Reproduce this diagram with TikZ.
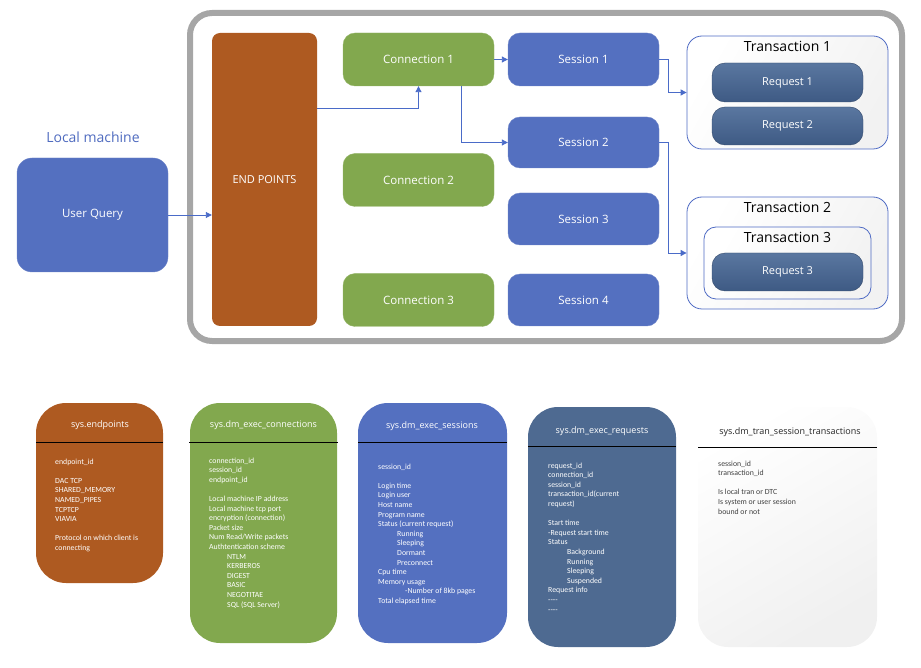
\documentclass[tikz,border=0pt]{standalone}
\usepackage{fontspec}
\setmainfont{Open Sans}
\newfontfamily\bodyfont{Carlito}
\usetikzlibrary{arrows.meta,calc}
\definecolor{framegray}{HTML}{A6A6A6}
\definecolor{sessblue}{HTML}{5470C0}
\definecolor{conngreen}{HTML}{82A84E}
\definecolor{epbrown}{HTML}{AE5A21}
\definecolor{reqtop}{HTML}{5A77A0}
\definecolor{reqbot}{HTML}{3E5A84}
\definecolor{reqcard}{HTML}{4E6A91}
\definecolor{arrblue}{HTML}{4A6BC8}
\definecolor{tranline}{HTML}{4F6BC4}
\definecolor{lmtext}{HTML}{4F6BBF}
\tikzset{
  box/.style={inner sep=0pt, text=white, font=\fontsize{11.5}{13}\selectfont},
  sessbox/.style={box, fill=sessblue, draw=sessblue!85!white, rounded corners=12pt, minimum width=151pt},
  connbox/.style={box, fill=conngreen, draw=conngreen!85!white, rounded corners=12pt, minimum width=151pt, minimum height=53pt},
  reqbox/.style={box, top color=reqtop, bottom color=reqbot, draw=reqbot!80!black, rounded corners=13pt, minimum width=151pt, font=\fontsize{11}{12}\selectfont},
  tranbox/.style={draw=tranline, line width=0.8pt, rounded corners=15pt, left color=white, right color=black!5, shading angle=60, inner sep=0pt, minimum width=201pt},
  trantitle/.style={inner sep=0pt, font=\fontsize{14}{16}\selectfont, text=black},
  arr/.style={draw=arrblue, line width=0.9pt, -{Triangle[length=6pt,width=6pt]}},
  card/.style={inner sep=0pt, rounded corners=30pt},
  cardtitle/.style={inner sep=0pt, font=\fontsize{9}{11}\selectfont, text=white},
  cardbody/.style={inner sep=0pt, anchor=north west, align=left, text=white, font=\bodyfont\fontsize{7.8}{9.6}\selectfont},
  divider/.style={draw=black, line width=1pt}
}
\begin{document}
\begin{tikzpicture}[x=1pt,y=-1pt]
\useasboundingbox (0,0) rectangle (921,668);
% outer frame
\draw[framegray, line width=6pt, rounded corners=22pt] (190,13) rectangle (902,341);

% local machine
\node[inner sep=0pt, text=lmtext, font=\fontsize{14}{16}\selectfont] (lm) at (93,137) {Local machine};
\node[box, fill=sessblue, draw=sessblue!85!white, rounded corners=15pt, minimum width=151pt, minimum height=114pt] (uq) at (92.5,215) {User Query};

% end points
\node[box, fill=epbrown, rounded corners=8pt, minimum width=105pt, minimum height=293pt, font=\fontsize{11}{12}\selectfont] (ep) at (264.5,179.5) {END POINTS};

% connections
\node[connbox] (c1) at (418.5,59.5) {Connection 1};
\node[connbox] (c2) at (418.5,180) {Connection 2};
\node[connbox] (c3) at (418.5,300) {Connection 3};

% sessions
\node[sessbox, minimum height=53pt] (s1) at (583.5,59.5) {Session 1};
\node[sessbox, minimum height=51pt] (s2) at (583.5,142.5) {Session 2};
\node[sessbox, minimum height=52pt] (s3) at (583.5,219) {Session 3};
\node[sessbox, minimum height=52pt] (s4) at (583.5,300) {Session 4};

% transactions
\node[tranbox, minimum height=113pt] (t1) at (787.5,92.5) {};
\node[trantitle] (t1l) at (787.5,46) {Transaction 1};
\node[reqbox, minimum height=39pt] (r1) at (787.5,82.5) {Request 1};
\node[reqbox, minimum height=38pt] (r2) at (787.5,126) {Request 2};

\node[tranbox, minimum height=112pt] (t2) at (787.5,253) {};
\node[trantitle] (t2l) at (787.5,207) {Transaction 2};
\node[tranbox, minimum width=167pt, minimum height=72pt, rounded corners=12pt] (t3) at (787.5,263) {};
\node[trantitle] (t3l) at (787.5,237) {Transaction 3};
\node[reqbox, minimum height=38pt] (r3) at (787.5,272) {Request 3};

% connectors
\coordinate (ky) at (0,108);
\coordinate (kx1) at (461,0);
\coordinate (kx2) at (668,0);
\draw[arr] (uq.east) -- (uq.east -| ep.west);
\draw[arr] (ep.east |- ky) -| (c1.south);
\draw[arr] (c1.east) -- (s1.west);
\draw[arr] (c1.south -| kx1) |- (s2.west);
\draw[arr] (s1.east) -- (s1.east -| kx2) |- (t1.west);
\draw[arr] (s2.east) -- (s2.east -| kx2) |- (t2.west);

% cards
\node[card, fill=epbrown, minimum width=127pt, minimum height=180pt] (k1) at (99.5,493) {};
\node[cardtitle] (k1t) at (100,425) {sys.endpoints};
\draw[divider] (36,442) -- (163,442);
\node[cardbody] (k1b) at (55,458.5) {endpoint\_id\\ ~\\ DAC TCP\\ SHARED\_MEMORY\\ NAMED\_PIPES\\ TCPTCP\\ VIAVIA\\ ~\\ Protocol on which client is\\ connecting};

\node[card, fill=conngreen, minimum width=147pt, minimum height=240pt] (k2) at (263.5,523) {};
\node[cardtitle] (k2t) at (263.5,425) {sys.dm\_exec\_connections};
\draw[divider] (189,442) -- (338,442);
\node[cardbody] (k2b) at (209,457.5) {connection\_id\\ session\_id\\ endpoint\_id\\ ~\\ Local machine IP address\\ Local machine tcp port\\ encryption (connection)\\ Packet size\\ Num Read/Write packets\\ Authtentication scheme\\
\hspace*{18pt}NTLM\\ \hspace*{18pt}KERBEROS\\ \hspace*{18pt}DIGEST\\ \hspace*{18pt}BASIC\\ \hspace*{18pt}NEGOTITAE\\ \hspace*{18pt}SQL (SQL Server)};

\node[card, fill=sessblue, minimum width=149pt, minimum height=240pt] (k3) at (432.5,523) {};
\node[cardtitle] (k3t) at (432,426) {sys.dm\_exec\_sessions};
\draw[divider] (358,442) -- (507,442);
\node[cardbody] (k3b) at (378,463.5) {session\_id\\ ~\\ Login time\\ Login user\\ Host name\\ Program name\\ Status (current request)\\
\hspace*{19pt}Running\\ \hspace*{19pt}Sleeping\\ \hspace*{19pt}Dormant\\ \hspace*{19pt}Preconnect\\ Cpu time\\ Memory usage\\ \hspace*{27pt}-Number of 8kb pages\\ Total elapsed time};

\node[card, fill=reqcard, minimum width=148pt, minimum height=240pt] (k4) at (602,527) {};
\node[cardtitle] (k4t) at (602,431) {sys.dm\_exec\_requests};
\draw[divider] (528,446) -- (676,446);
\node[cardbody] (k4b) at (548,462.5) {request\_id\\ connection\_id\\ session\_id\\ transaction\_id(current\\ request)\\ ~\\ Start time\\ -Request start time\\ Status\\
\hspace*{19pt}Background\\ \hspace*{19pt}Running\\ \hspace*{19pt}Sleeping\\ \hspace*{19pt}Suspended\\ Request info\\ ----\\ ----};

\node[card, left color=white, right color=black!6, shading angle=30, minimum width=179pt, minimum height=240pt] (k5) at (787.5,527) {};
\node[cardtitle, text=black!85] (k5t) at (790,432) {sys.dm\_tran\_session\_transactions};
\draw[divider] (698,447) -- (877,447);
\node[cardbody, text=black!75] (k5b) at (718,460.5) {session\_id\\ transaction\_id\\ ~\\ Is local tran or DTC\\ Is system or user session\\ bound or not};
\end{tikzpicture}
\end{document}
